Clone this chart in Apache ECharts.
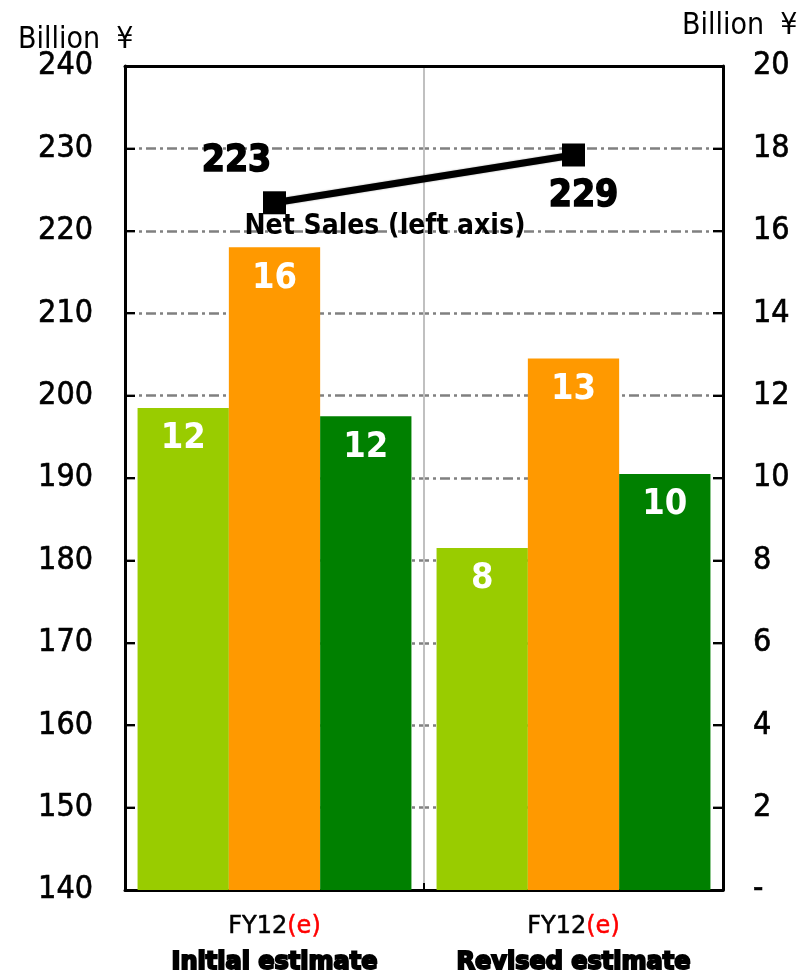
<!DOCTYPE html>
<html>
<head>
<meta charset="utf-8">
<script src="https://cdn.jsdelivr.net/npm/echarts@6/dist/echarts.min.js"></script>
<style>
html,body{margin:0;padding:0;background:#fff;}
#chart{width:805px;height:977px;}
</style>
</head>
<body>
<div id="chart"></div>
<script>
// ---- data ----
const categoryNames = ['Initial estimate', 'Revised estimate'];
const categoryPeriods = ['FY12', 'FY12'];
const categorySuffix = ['(e)', '(e)'];
const leftAxisTicks = [140, 150, 160, 170, 180, 190, 200, 210, 220, 230, 240];
const rightAxisTicks = [0, 2, 4, 6, 8, 10, 12, 14, 16, 18, 20];
const barLightGreen = [11.7, 8.3];
const barOrange = [15.6, 12.9];
const barDarkGreen = [11.5, 10.1];
const netSales = [223.4, 229.2];
const axisUnitWord = 'Billion';
const axisUnitSign = '¥';
const lineNote = 'Net Sales (left axis)';

const chart = echarts.init(document.getElementById('chart'), null, {renderer: 'canvas'});

const axisFont = 'DejaVu Sans Condensed, DejaVu Sans, sans-serif';
const barLabel = {
  show: true,
  position: 'insideTop',
  distance: 13,
  color: '#fff',
  fontFamily: axisFont,
  fontWeight: 'bold',
  fontSize: 36,
  formatter: p => String(Math.round(p.value))
};

function barSeries(name, data, color) {
  return {
    name: name,
    type: 'bar',
    yAxisIndex: 1,
    data: data,
    barGap: '0%',
    barCategoryGap: '8.4%',
    itemStyle: {color: color},
    label: barLabel,
    z: 2
  };
}

function unitText(left, top) {
  return {
    type: 'text', left: left, top: top,
    style: {
      text: '{w|' + axisUnitWord + '}{s|' + axisUnitSign + '}',
      rich: {
        w: {fontFamily: axisFont, fontSize: 30, fill: '#000', color: '#000'},
        s: {fontFamily: axisFont, fontSize: 30, fill: '#000', color: '#000', padding: [0, 0, 0, 16]}
      }
    }
  };
}

const option = {
  animation: false,
  backgroundColor: '#fff',
  grid: {left: 125, right: 82, top: 66, bottom: 87, containLabel: false},
  xAxis: [{
    type: 'category',
    data: categoryNames,
    axisLine: {show: true, lineStyle: {color: '#000', width: 3}},
    axisTick: {show: true, inside: true, length: 7, lineStyle: {color: '#000', width: 2}},
    splitLine: {show: true, showMinLine: false, showMaxLine: false, lineStyle: {color: '#c0c0c0', width: 2}},
    axisLabel: {
      margin: 22,
      interval: 0,
      formatter: (v, i) => '{a|' + categoryPeriods[i] + '}{r|' + categorySuffix[i] + '}\n{b|' + v + '}',
      rich: {
        a: {fontFamily: 'DejaVu Sans', fontSize: 24, color: '#000', lineHeight: 30,
            textBorderColor: '#000', textBorderWidth: 0.5},
        r: {fontFamily: 'DejaVu Sans', fontSize: 24, color: '#ff0000', lineHeight: 30,
            textBorderColor: '#ff0000', textBorderWidth: 0.5},
        b: {fontFamily: 'DejaVu Sans', fontWeight: 'bold', fontSize: 24, color: '#000', lineHeight: 42,
            textBorderColor: '#000', textBorderWidth: 2}
      }
    }
  }, {
    type: 'category',
    position: 'top',
    data: categoryNames,
    axisLine: {show: true, lineStyle: {color: '#000', width: 3}},
    axisTick: {show: false},
    axisLabel: {show: false},
    splitLine: {show: false}
  }],
  yAxis: [{
    type: 'value',
    position: 'left',
    min: 140,
    max: 240,
    interval: 10,
    axisLine: {show: true, lineStyle: {color: '#000', width: 3}},
    axisTick: {show: true, inside: true, length: 10, lineStyle: {color: '#000', width: 2}},
    splitLine: {show: true, showMinLine: false, showMaxLine: false,
      lineStyle: {color: '#808080', width: 2.5, type: [10, 4, 3, 4]}},
    axisLabel: {
      margin: 32,
      color: '#000',
      fontFamily: axisFont,
      fontSize: 32,
      textBorderColor: '#000',
      textBorderWidth: 0.6,
      formatter: v => leftAxisTicks.includes(v) ? String(v) : ''
    }
  }, {
    type: 'value',
    position: 'right',
    min: 0,
    max: 20,
    interval: 2,
    axisLine: {show: true, lineStyle: {color: '#000', width: 3}},
    axisTick: {show: true, inside: true, length: 10, lineStyle: {color: '#000', width: 2}},
    splitLine: {show: false},
    axisLabel: {
      margin: 30,
      color: '#000',
      fontFamily: axisFont,
      fontSize: 32,
      textBorderColor: '#000',
      textBorderWidth: 0.6,
      formatter: v => rightAxisTicks.includes(v) ? (v === 0 ? '-' : String(v)) : ''
    }
  }],
  series: [
    barSeries('Bar 1', barLightGreen, '#99cc00'),
    barSeries('Bar 2', barOrange, '#ff9900'),
    barSeries('Bar 3', barDarkGreen, '#008000'),
    {
      name: 'Net Sales',
      type: 'line',
      yAxisIndex: 0,
      data: netSales.map((v, i) => ({
        value: v,
        label: {offset: i === 0 ? [-38, -41] : [10, 41]}
      })),
      symbol: 'rect',
      symbolSize: 23,
      itemStyle: {color: '#000'},
      lineStyle: {color: '#000', width: 7, shadowColor: 'rgba(0,0,0,0.35)', shadowBlur: 2},
      z: 5,
      label: {
        show: true,
        position: 'inside',
        color: '#000',
        fontFamily: axisFont,
        fontWeight: 'bold',
        fontSize: 37,
        textBorderColor: '#000',
        textBorderWidth: 1.5,
        formatter: p => String(Math.round(p.value))
      }
    }
  ],
  graphic: [
    unitText(18, 25),
    unitText(682, 11),
    {type: 'text', x: 385, y: 227, z: 10,
     style: {text: lineNote, fontFamily: axisFont, fontWeight: 'bold', fontSize: 28, fill: '#000',
             align: 'center', verticalAlign: 'middle'}}
  ]
};
chart.setOption(option);
</script>
</body>
</html>
